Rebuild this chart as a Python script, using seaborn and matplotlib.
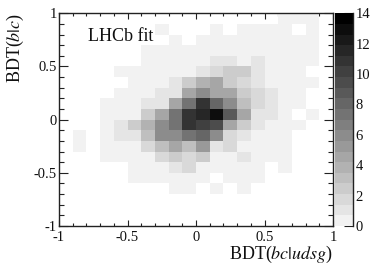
import numpy as np
import pandas as pd
import matplotlib
matplotlib.use("Agg")
import matplotlib.pyplot as plt
from matplotlib.colors import ListedColormap
import seaborn as sns

sns.set_style("ticks")
plt.rcParams["font.family"] = ["Liberation Serif", "DejaVu Serif"]
plt.rcParams["mathtext.fontset"] = "stix"

# shade level of every bin (0 = empty, one level is 0.7 counts), top row first
row_00 = [0, 0, 0, 0, 0, 0, 0, 0, 0, 0, 0, 0, 0, 0, 0, 0, 1, 1, 1, 0]
row_01 = [0, 0, 0, 0, 0, 0, 0, 1, 0, 0, 0, 1, 0, 1, 1, 1, 1, 0, 1, 0]
row_02 = [0, 0, 0, 0, 0, 0, 0, 0, 1, 0, 1, 1, 1, 1, 1, 1, 1, 1, 1, 0]
row_03 = [0, 0, 0, 0, 0, 0, 1, 1, 1, 1, 1, 1, 1, 1, 1, 1, 1, 1, 1, 0]
row_04 = [0, 0, 0, 0, 0, 0, 1, 1, 1, 1, 1, 2, 2, 1, 2, 1, 1, 1, 1, 0]
row_05 = [0, 0, 0, 0, 1, 1, 1, 1, 1, 1, 2, 3, 4, 4, 2, 1, 1, 1, 0, 0]
row_06 = [0, 0, 0, 0, 0, 1, 1, 1, 2, 4, 6, 7, 4, 3, 2, 1, 1, 1, 1, 0]
row_07 = [0, 0, 0, 0, 1, 1, 1, 2, 2, 7, 9, 7, 7, 4, 3, 2, 1, 1, 0, 0]
row_08 = [0, 0, 0, 1, 1, 1, 2, 2, 7, 11, 16, 12, 9, 5, 3, 2, 1, 1, 0, 0]
row_09 = [0, 0, 0, 1, 1, 1, 4, 7, 11, 16, 17, 19, 13, 7, 2, 2, 1, 0, 1, 0]
row_10 = [0, 0, 0, 1, 2, 4, 6, 9, 11, 16, 15, 14, 7, 4, 2, 1, 1, 1, 0, 0]
row_11 = [0, 1, 0, 1, 2, 2, 5, 9, 9, 11, 12, 9, 3, 2, 1, 1, 1, 0, 0, 0]
row_12 = [0, 1, 0, 1, 1, 1, 3, 5, 7, 5, 8, 2, 3, 1, 1, 1, 1, 0, 0, 0]
row_13 = [0, 0, 0, 1, 1, 1, 1, 3, 4, 3, 4, 1, 1, 2, 1, 1, 1, 0, 0, 0]
row_14 = [0, 0, 0, 0, 0, 1, 1, 1, 2, 3, 1, 1, 1, 1, 1, 0, 1, 0, 0, 0]
row_15 = [0, 0, 0, 0, 0, 1, 1, 1, 1, 1, 1, 0, 1, 1, 1, 0, 0, 0, 0, 0]
row_16 = [0, 0, 0, 0, 0, 0, 0, 0, 1, 1, 0, 1, 0, 1, 0, 0, 0, 0, 0, 0]
row_17 = [0] * 20
row_18 = [0] * 20
row_19 = [0] * 20

major_ticks = [-1, -0.5, 0, 0.5, 1]
major_labels = ["-1", "-0.5", "0", "0.5", "1"]
minor_ticks = [-0.9, -0.8, -0.7, -0.6, -0.4, -0.3, -0.2, -0.1, 0.1, 0.2, 0.3, 0.4, 0.6, 0.7, 0.8, 0.9]
cbar_ticks = [0, 2, 4, 6, 8, 10, 12, 14]

rows = [row_00, row_01, row_02, row_03, row_04, row_05, row_06, row_07, row_08, row_09,
        row_10, row_11, row_12, row_13, row_14, row_15, row_16, row_17, row_18, row_19]
levels = np.array(rows)
counts = pd.DataFrame((levels - 0.5) * 0.7)

grays = np.linspace(242, 0, 20) / 255
cmap = ListedColormap([(g, g, g) for g in grays])

fig = plt.figure(figsize=(3.92, 2.66), dpi=100)
ax = fig.add_axes([59 / 392, 40 / 266, 274 / 392, 212.7 / 266])
cax = fig.add_axes([335 / 392, 40 / 266, 18 / 392, 212.7 / 266])

sns.heatmap(counts, ax=ax, cbar_ax=cax, cmap=cmap, vmin=0, vmax=14, mask=levels == 0,
            xticklabels=False, yticklabels=False)


def xpos(values):
    return [(v + 1) * 10 for v in values]


def ypos(values):
    return [(1 - v) * 10 for v in values]


line_col = "#222222"
ax.set_xticks(xpos(major_ticks))
ax.set_xticklabels(major_labels, fontsize=10.5)
ax.set_xticks(xpos(minor_ticks), minor=True)
ax.set_yticks(ypos(major_ticks))
ax.set_yticklabels(major_labels, fontsize=10.5)
ax.set_yticks(ypos(minor_ticks), minor=True)
ax.tick_params(axis="x", which="major", direction="in", length=4.3, width=0.8, color=line_col,
               top=True, bottom=True, pad=3.5, labelcolor="#111111")
ax.tick_params(axis="x", which="minor", direction="in", length=2.3, width=0.8, color=line_col,
               top=True, bottom=True)
ax.tick_params(axis="y", which="major", direction="in", length=6.5, width=0.8, color=line_col,
               left=True, right=True, pad=1.5, labelcolor="#111111")
ax.tick_params(axis="y", which="minor", direction="in", length=3.5, width=0.8, color=line_col,
               left=True, right=True)
for spine in ax.spines.values():
    spine.set_visible(True)
    spine.set_linewidth(1.0)
    spine.set_color(line_col)

ax.set_xlabel(r"BDT($\mathit{bc}|\mathit{udsg}$)", fontsize=13, loc="right", labelpad=0, color="#111111")
ax.set_ylabel(r"BDT($\mathit{b}|\mathit{c}$)", fontsize=13, loc="top", labelpad=5.5, color="#111111")
ax.text(2.15, 2.2, "LHCb fit", fontsize=13, ha="left", va="center", color="#111111")

cax.set_yticks(cbar_ticks)
cax.set_yticklabels([str(t) for t in cbar_ticks], fontsize=10.5)
cax.yaxis.tick_right()
cax.tick_params(axis="y", direction="in", length=6.5, width=0.8, color=line_col, pad=2, labelcolor="#111111")
for name, spine in cax.spines.items():
    spine.set_visible(name == "right")
    spine.set_linewidth(1.0)
    spine.set_color(line_col)

fig.savefig("out.png", dpi=100)
plt.close()
